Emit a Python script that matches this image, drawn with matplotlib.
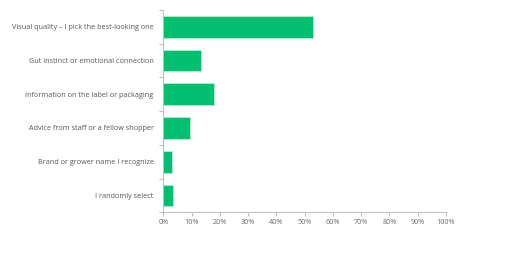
import numpy as np
import matplotlib
matplotlib.use('Agg')
import matplotlib.pyplot as plt

# answers, top to bottom as shown
labels = ['Visual quality \u2013 I pick the best-looking one',
          'Gut instinct or emotional connection',
          'Information on the label or packaging',
          'Advice from staff or a fellow shopper',
          'Brand or grower name I recognize',
          'I randomly select']
share = [53.0, 13.4, 18.0, 9.4, 3.2, 3.4]
xticks = np.arange(0, 101, 10)

plt.rcParams['font.family'] = ['Open Sans', 'DejaVu Sans']

fig = plt.figure(figsize=(5.12, 2.54), dpi=100)
ax = fig.add_axes([0.319, 0.164, 0.552, 0.797])

y = np.arange(len(labels))
ax.barh(y, share, height=0.65, color='#00BF6F', edgecolor='#b8ecd2', linewidth=0.6)
ax.set_ylim(len(labels) - 0.5, -0.5)
ax.set_xlim(0, 100)

ax.set_xticks(xticks)
ax.set_xticklabels([f'{v}%' for v in xticks])
ax.set_yticks(y)
ax.set_yticklabels(labels)
ax.set_yticks(np.arange(len(labels) + 1) - 0.5, minor=True)

for s in ['top', 'right']:
    ax.spines[s].set_visible(False)
for s in ['left', 'bottom']:
    ax.spines[s].set_color('#bfbfbf')
    ax.spines[s].set_linewidth(0.8)

ax.tick_params(axis='x', colors='#bfbfbf', labelcolor='#6b6b6b', labelsize=5.2, length=3, width=0.8, pad=2)
ax.tick_params(axis='y', which='major', length=0, labelcolor='#555555', labelsize=5.2, pad=7)
ax.tick_params(axis='y', which='minor', length=3, width=0.8, colors='#bfbfbf')

fig.savefig('out.png', dpi=100)
